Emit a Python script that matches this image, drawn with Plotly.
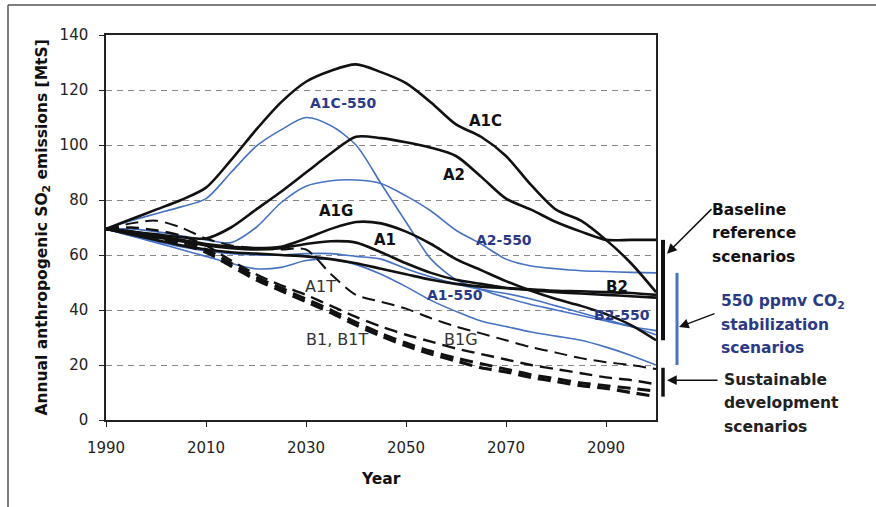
import plotly.graph_objects as go

# ---------------------------------------------------------------
# Annual anthropogenic SO2 emissions [MtS], 1990-2100, by scenario
# ---------------------------------------------------------------
years = list(range(1990, 2101, 5))

# baseline reference scenarios (solid black)
A1C = [69.5, 73, 76.5, 80, 84.5, 94.5, 105.5, 115.5, 123, 127, 129.3, 126.5,
       122.5, 115.5, 107.5, 103, 96, 85.5, 76.5, 72.5, 65.5, 57, 46.5]
A2 = [69.5, 68.5, 67.5, 66.5, 66, 70, 76.5, 83, 90, 97, 103, 102.5,
      101, 99, 96, 88.5, 80.5, 76.5, 72, 68.5, 65.5, 65.5, 65.5]
A1G = [69.5, 68.5, 67, 65.5, 64, 63, 62.5, 63, 66, 69.5, 72, 71.5,
       68.5, 64, 58.5, 54.5, 50.5, 47, 44, 41.5, 38.5, 34.5, 29]
A1 = [69.5, 68, 66.5, 65, 63.5, 62.5, 62, 62.5, 64, 65, 64.5, 61,
      57, 53.5, 51, 49.5, 48, 47.2, 46.5, 46, 45.5, 45, 44.5]
B2 = [69.5, 67.5, 65.5, 63.5, 62, 61, 60.5, 60, 59.5, 58.5, 57, 55,
      53, 51, 49.5, 48.5, 48, 47.5, 47, 46.8, 46.5, 46.2, 45.5]

# 550 ppmv CO2 stabilization scenarios (blue)
A1C_550 = [69.5, 72.5, 75, 77.5, 80.5, 90, 99.5, 105.5, 110, 107, 100, 86,
           72, 58.5, 51, 47.5, 44.5, 42, 40, 38, 36, 34, 32.5]
A2_550 = [69.5, 69.5, 68.5, 67, 65.5, 64.5, 70, 79, 85, 87, 87.3, 86,
          81.5, 76, 69, 64, 58.5, 56, 55, 54.3, 54, 53.7, 53.5]
A1_550 = [69.5, 67, 64.5, 62, 59.5, 57, 55, 55.5, 58, 58.5, 56.5, 53,
          48.5, 43.5, 39.5, 36, 34, 32, 30.5, 29, 26.5, 23.5, 20]
B2_550 = [69.5, 67, 65, 63, 61.5, 60.5, 60, 60, 60.5, 60.5, 59.5, 58.5,
          55, 52, 49.5, 47.5, 46, 44, 41.5, 39, 36.5, 34, 31]

# sustainable development scenarios (dashed black)
A1T = [69.5, 71.5, 72.5, 70, 66, 63.5, 62.5, 62, 62, 53, 45.5, 43,
       40.5, 37, 34, 31.5, 29, 26.5, 24.5, 22.5, 21, 20, 18.5]
B1G = [69.5, 70, 69, 67, 63.5, 58, 53, 49, 45.5, 41.5, 37.5, 34,
       31, 28.5, 26, 24, 22, 20, 18.5, 17, 15.5, 14.5, 13]
B1T = [69.5, 68.5, 67, 65, 62, 57, 52, 48, 44, 40, 35.5, 31.5,
       28, 25, 22.5, 20.5, 18.5, 16.5, 15, 13.5, 12.5, 11.5, 10.5]
B1 = [69.5, 68, 66.5, 64, 61, 56, 51, 47, 43, 39, 34.5, 30.5,
      27, 24, 21.5, 19, 17.5, 15.5, 14, 12.5, 11.5, 10, 8.5]

x_ticks = [1990, 2010, 2030, 2050, 2070, 2090]
y_ticks = [0, 20, 40, 60, 80, 100, 120, 140]

# curve labels: (text, year, value, colour, bold, size)
curve_labels = [
    ("A1C-550", 2037.4, 115.3, "#2b3a86", True, 14),
    ("A1C", 2065.8, 108.7, "#111111", True, 15),
    ("A2", 2059.6, 89.1, "#111111", True, 15),
    ("A1G", 2036.0, 76.0, "#111111", True, 15),
    ("A1", 2045.8, 65.5, "#111111", True, 15),
    ("A2-550", 2069.6, 65.5, "#2b3a86", True, 14),
    ("A1T", 2032.8, 48.7, "#333333", False, 16),
    ("A1-550", 2059.8, 45.5, "#2b3a86", True, 14),
    ("B2", 2092.2, 48.4, "#111111", True, 15),
    ("B2-550", 2093.2, 38.2, "#2b3a86", True, 14),
    ("B1, B1T", 2036.2, 29.1, "#333333", False, 16),
    ("B1G", 2061.0, 29.1, "#333333", False, 16),
]

FONT = "DejaVu Sans"
BLACK = "#111111"
BLUE = "#4672c4"
NAVY = "#2b3a86"

W, H = 876, 507
L, R, T, B = 106, 220, 35, 87
PW, PH = W - L - R, H - T - B


def xp(px):
    return (px - L) / PW


def yp(py):
    return (H - B - py) / PH


fig = go.Figure()

blue_series = [A2_550, B2_550, A1_550, A1C_550]
for s in blue_series:
    fig.add_trace(go.Scatter(x=years, y=s, mode="lines",
                             line=dict(color=BLUE, width=1.6, shape="spline", smoothing=0.8),
                             hoverinfo="skip", showlegend=False))

dashed_series = [(A1T, 2.0), (B1G, 2.4), (B1T, 3.0), (B1, 3.2)]
for s, w in dashed_series:
    fig.add_trace(go.Scatter(x=years, y=s, mode="lines",
                             line=dict(color=BLACK, width=w, dash="13px,7px",
                                       shape="spline", smoothing=0.8),
                             hoverinfo="skip", showlegend=False))

black_series = [B2, A1, A1G, A2, A1C]
for s in black_series:
    fig.add_trace(go.Scatter(x=years, y=s, mode="lines",
                             line=dict(color=BLACK, width=2.6, shape="spline", smoothing=0.8),
                             hoverinfo="skip", showlegend=False))

annotations = []
for text, yr, val, col, bold, size in curve_labels:
    annotations.append(dict(x=yr, y=val, xref="x", yref="y", text=text, showarrow=False,
                            font=dict(family=FONT, size=size, color=col,
                                      weight="bold" if bold else "normal"),
                            xanchor="center", yanchor="middle"))

# axis titles
annotations.append(dict(x=xp(42), y=0.5, xref="paper", yref="paper",
                        text="Annual anthropogenic SO<sub>2</sub> emissions [MtS]",
                        textangle=-90, showarrow=False,
                        font=dict(family=FONT, size=15.5, color="#111", weight="bold"),
                        xanchor="center", yanchor="middle"))
annotations.append(dict(x=0.5, y=yp(479), xref="paper", yref="paper", text="Year",
                        showarrow=False,
                        font=dict(family=FONT, size=15.5, color="#111", weight="bold"),
                        xanchor="center", yanchor="middle"))

# scenario group captions on the right
groups = [
    (["Baseline", "reference", "scenarios"], 710, [210, 233, 257], "#111"),
    (["550 ppmv CO<sub>2</sub>", "stabilization", "scenarios"], 719, [302, 325, 348], NAVY),
    (["Sustainable", "development", "scenarios"], 722, [380, 403, 427], "#222"),
]
for lines, left, ys, col in groups:
    for txt, py in zip(lines, ys):
        annotations.append(dict(x=xp(left), y=yp(py), xref="paper", yref="paper", text=txt,
                                showarrow=False, xanchor="left", yanchor="middle",
                                font=dict(family=FONT, size=15.5, color=col, weight="bold")))

# range bars spanning the 2100 values of each scenario group
baseline_end = [s[-1] for s in black_series]
stab_end = [s[-1] for s in blue_series]
sust_end = [s[-1] for s, _ in dashed_series]
shapes = [
    dict(type="line", xref="paper", yref="y", x0=xp(663), x1=xp(663),
         y0=min(baseline_end), y1=max(baseline_end), line=dict(color=BLACK, width=4)),
    dict(type="line", xref="paper", yref="y", x0=xp(677), x1=xp(677),
         y0=min(stab_end), y1=max(stab_end), line=dict(color=BLUE, width=3)),
    dict(type="line", xref="paper", yref="y", x0=xp(663), x1=xp(663),
         y0=min(sust_end), y1=max(s[-1] for s, _ in dashed_series[:1]) + 0.5,
         line=dict(color=BLACK, width=3.5)),
    # outer frame (top and left edges)
    dict(type="line", xref="paper", yref="paper", x0=xp(8), x1=xp(900), y0=yp(5), y1=yp(5),
         line=dict(color="#555", width=1.5)),
    dict(type="line", xref="paper", yref="paper", x0=xp(8), x1=xp(8), y0=yp(5), y1=yp(520),
         line=dict(color="#555", width=1.5)),
]

# arrows from captions to range bars
arrows = [
    (xp(667), 60.5, 46, -46),
    (xp(679), 33.8, 37, -14),
    (xp(667), 14.5, 52, 0),
]
for hx, hy, ax, ay in arrows:
    annotations.append(dict(x=hx, y=hy, xref="paper", yref="y", ax=ax, ay=ay, text="",
                            showarrow=True, arrowhead=2, arrowsize=1.3, arrowwidth=1.5,
                            arrowcolor=BLACK))

axis_common = dict(showline=True, linecolor="#222", linewidth=1.5, mirror=True,
                   ticks="outside", ticklen=5, tickcolor="#222", zeroline=False,
                   tickfont=dict(family=FONT, size=15, color="#222"))

fig.update_layout(
    width=W, height=H,
    margin=dict(l=L, r=R, t=T, b=B, autoexpand=False),
    paper_bgcolor="white", plot_bgcolor="white",
    xaxis=dict(range=[1990, 2100], tickvals=x_ticks, showgrid=False,
               ticklabelstandoff=8, **axis_common),
    yaxis=dict(range=[0, 140], tickvals=y_ticks, showgrid=True, gridcolor="#888",
               gridwidth=1, griddash="6px,5px", ticklabelstandoff=8, **axis_common),
    annotations=annotations,
    shapes=shapes,
    showlegend=False,
)

fig.write_html("out.html")
